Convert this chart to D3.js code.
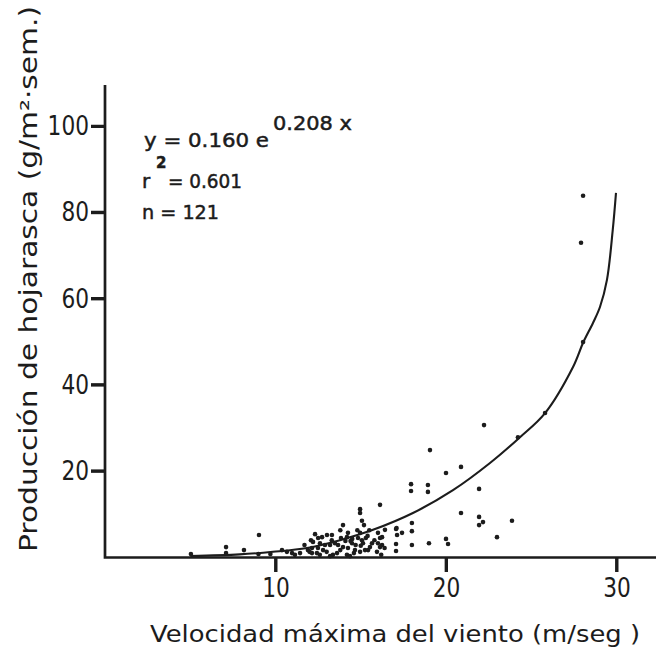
<!DOCTYPE html>
<html>
<head>
  <meta charset="utf-8">
  <title>Hojarasca vs viento</title>
  <script src="https://cdn.jsdelivr.net/npm/d3@7"></script>
  <style>
    body { margin:0; background:#fff; }
    text { font-family: "DejaVu Sans", sans-serif; fill:#1c1c1c; }
  </style>
</head>
<body>
<div id="chart"></div>
<script>
// velocidad maxima (m/seg) y produccion (g/m2 sem)
var windX = [28.04,27.92,28.04,25.81,24.22,22.23,19.06,20.88,20.0,17.95,17.95,18.94,18.94,21.94,16.13,20.88,21.94,22.17,21.94,23.87,
  22.99,18.0,18.0,18.0,17.07,17.13,17.42,16.42,17.07,17.07,19.0,20.0,20.12,16.25,16.25,14.96,14.96,15.07,15.19,13.96,
  12.32,12.73,13.02,13.31,12.08,12.2,13.84,14.19,14.25,14.96,14.84,15.07,15.13,16.01,16.13,16.01,16.13,15.95,13.49,13.67,
  13.96,14.25,14.49,12.61,12.49,12.79,13.2,12.14,12.14,12.43,14.66,14.96,15.25,15.43,13.61,13.37,13.2,10.97,11.14,11.44,
  10.38,10.67,14.19,14.37,15.66,15.54,9.03,7.1,5.04,7.1,8.15,14.7,15.3,11.7,9.7,9.0,12.9,13.8,14.8,15.8,
  15.5,14.1,15.4,14.5,11.9,12.5,13.8,16.4,14.6,13.0,12.0,15.0,14.4,13.3,12.6,16.2,17.1];
var litterY = [83.8,72.9,49.9,33.4,27.8,30.6,24.8,20.9,19.5,16.9,15.3,16.7,15.1,15.8,12.1,10.2,9.3,8.1,7.4,8.4,
  4.6,7.9,6.0,2.8,6.5,5.1,5.6,6.3,3.0,1.4,3.2,4.2,3.0,4.6,2.8,11.1,10.2,8.4,7.4,7.4,
  5.3,4.6,5.1,5.1,3.9,3.5,4.4,4.6,5.6,5.6,4.4,3.9,3.2,5.6,4.4,3.2,2.3,1.2,3.2,2.8,
  2.3,2.1,3.2,3.2,2.1,1.6,2.8,2.1,0.9,0.9,1.6,1.2,1.6,1.6,0.9,0.5,0.2,0.9,0.5,0.9,
  1.6,1.2,0.5,0.2,3.2,2.3,5.1,2.3,0.7,0.9,1.6,2.8,4.4,2.8,0.7,0.7,2.8,1.6,6.2,3.9,
  6.2,3.7,4.9,4.2,1.6,4.4,6.2,2.1,0.9,1.2,1.2,2.6,3.7,3.9,0.5,0.5,6.7];

var fitX = [5.0,7.9,9.85,11.85,13.78,15.72,18.06,20.41,22.58,24.34,25.81,27.45,28.04,28.62,29.03,29.44,29.78,29.97];
var fitY = [0.2,0.6,1.2,2.1,3.9,6.3,10.2,15.5,21.8,27.8,33.4,44.1,49.7,54.3,58.0,64.3,75.9,84.5];

var xTicks = [10,20,30];
var yTicks = [20,40,60,80,100];

var W = 660, H = 650;
var svg = d3.select("#chart").append("svg").attr("width", W).attr("height", H);

var x = d3.scaleLinear().domain([0,30]).range([105, 616.5]);
var y = d3.scaleLinear().domain([0,100]).range([557, 126]);
var ink = "#1c1c1c";

// curva
var line = d3.line().x(function(d){return x(d[0]);}).y(function(d){return y(d[1]);})
  .curve(d3.curveCatmullRom.alpha(0.5));
svg.append("path").datum(d3.zip(fitX, fitY)).attr("d", line)
  .attr("fill","none").attr("stroke",ink).attr("stroke-width",2.1);

// puntos
svg.selectAll("circle.pt").data(d3.zip(windX, litterY)).enter().append("circle")
  .attr("class","pt").attr("cx",function(d){return x(d[0]);}).attr("cy",function(d){return y(d[1]);})
  .attr("r",2.3).attr("fill",ink);

// ejes de d3 (marcas y rotulos)
var gx = svg.append("g").attr("transform","translate(0,557)")
  .call(d3.axisBottom(x).tickValues(xTicks).tickSize(15).tickPadding(6));
var gy = svg.append("g").attr("transform","translate(105,0)")
  .call(d3.axisLeft(y).tickValues(yTicks).tickSize(14).tickPadding(2));
[gx, gy].forEach(function(g){
  g.select(".domain").attr("stroke","none");
  g.selectAll(".tick line").attr("stroke",ink).attr("stroke-width",3);
  g.selectAll(".tick text").attr("fill",ink).attr("font-family","DejaVu Sans")
    .attr("font-size",27).attr("lengthAdjust","spacingAndGlyphs")
    .attr("textLength",function(d){return String(d).length*13.8;});
});

// lineas de los ejes con las marcas en un solo trazo
var frame = "M105,85V557.5H656";
xTicks.forEach(function(d){ frame += "M" + x(d) + ",557V572"; });
yTicks.forEach(function(d){ frame += "M91," + y(d) + "H105"; });
svg.append("path").attr("d", frame)
  .attr("stroke", ink).attr("stroke-width", 2.7).attr("fill", "none");

// titulos
svg.append("text").attr("transform","translate(37,279) rotate(-90)")
  .attr("text-anchor","middle").style("font-size","24px")
  .attr("textLength",546).attr("lengthAdjust","spacingAndGlyphs")
  .text("Producción de hojarasca (g/m²·sem.)");
svg.append("text").attr("x",395).attr("y",642).attr("text-anchor","middle")
  .style("font-size","23px").attr("textLength",490).attr("lengthAdjust","spacingAndGlyphs")
  .text("Velocidad máxima del viento (m/seg )");

// ecuacion
var eq = svg.append("g").style("font-size","20px").style("stroke",ink).style("stroke-width","0.5px");
eq.append("text").attr("x",144).attr("y",147).attr("textLength",125).attr("lengthAdjust","spacingAndGlyphs")
  .text("y = 0.160 e");
eq.append("text").attr("x",273).attr("y",130).attr("textLength",79).attr("lengthAdjust","spacingAndGlyphs")
  .text("0.208 x");
eq.append("text").attr("x",142).attr("y",188).text("r");
eq.append("text").attr("x",156).attr("y",168).style("font-size","15px").style("font-weight","bold").text("2");
eq.append("text").attr("x",168).attr("y",188).attr("textLength",74).attr("lengthAdjust","spacingAndGlyphs")
  .text("= 0.601");
eq.append("text").attr("x",142).attr("y",219).attr("textLength",77).attr("lengthAdjust","spacingAndGlyphs")
  .text("n  = 121");
</script>
</body>
</html>
